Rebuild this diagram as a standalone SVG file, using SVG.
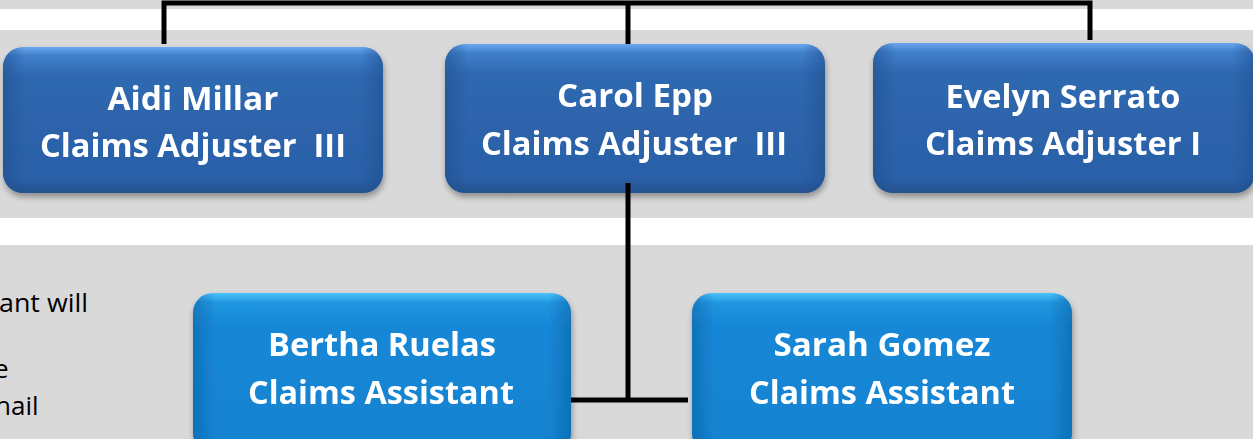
<svg xmlns="http://www.w3.org/2000/svg" width="1253" height="439" viewBox="0 0 1253 439">
<defs>
<style>
.nt{font-family:"Open Sans","Liberation Sans",sans-serif;font-weight:bold;font-size:33px;fill:#ffffff;white-space:pre;}
.side{font-family:"Open Sans","Liberation Sans",sans-serif;font-size:26px;fill:#000000;}
.conn{stroke:#000000;stroke-width:5;fill:none;}
</style>
<linearGradient id="gDark" x1="0" y1="0" x2="0" y2="1">
<stop offset="0" stop-color="#6aa8f0"/>
<stop offset="0.06" stop-color="#3f7fcb"/>
<stop offset="0.2" stop-color="#2f68b0"/>
<stop offset="0.9" stop-color="#2b60a8"/>
<stop offset="1" stop-color="#24528f"/>
</linearGradient>
<linearGradient id="gDarkSide" x1="0" y1="0" x2="1" y2="0">
<stop offset="0" stop-color="#1f4e8c" stop-opacity="0.55"/>
<stop offset="0.06" stop-color="#1f4e8c" stop-opacity="0"/>
<stop offset="0.94" stop-color="#1f4e8c" stop-opacity="0"/>
<stop offset="1" stop-color="#1f4e8c" stop-opacity="0.55"/>
</linearGradient>
<linearGradient id="gLight" x1="0" y1="0" x2="0" y2="1">
<stop offset="0" stop-color="#4cc4ff"/>
<stop offset="0.06" stop-color="#2196e0"/>
<stop offset="0.2" stop-color="#1587d6"/>
<stop offset="0.9" stop-color="#1383d2"/>
<stop offset="1" stop-color="#0f70b8"/>
</linearGradient>
<linearGradient id="gLightSide" x1="0" y1="0" x2="1" y2="0">
<stop offset="0" stop-color="#0b5f9e" stop-opacity="0.5"/>
<stop offset="0.06" stop-color="#0b5f9e" stop-opacity="0"/>
<stop offset="0.94" stop-color="#0b5f9e" stop-opacity="0"/>
<stop offset="1" stop-color="#0b5f9e" stop-opacity="0.5"/>
</linearGradient>
<filter id="sh" x="-10%" y="-10%" width="120%" height="130%">
<feGaussianBlur in="SourceAlpha" stdDeviation="3"/>
<feOffset dx="1" dy="4" result="b"/>
<feComponentTransfer><feFuncA type="linear" slope="0.35"/></feComponentTransfer>
<feMerge><feMergeNode/><feMergeNode in="SourceGraphic"/></feMerge>
</filter>
</defs>

<!-- background bands -->
<rect x="0" y="0" width="1253" height="439" fill="#d9d9d9"/>
<rect x="0" y="9" width="1253" height="21" fill="#ffffff"/>
<rect x="0" y="218" width="1253" height="27" fill="#ffffff"/>

<!-- side text (cut off at the left edge, as in the reference) -->
<text class="side" x="-1" y="312" textLength="89" lengthAdjust="spacingAndGlyphs">ant will</text>
<text class="side" x="-6" y="378">e</text>
<text class="side" x="-5" y="415">hail</text>

<!-- connectors -->
<g id="connectors">
<path class="conn" d="M164 44 V3 H1090 V40"/>
<path class="conn" d="M628 3 V45"/>
<path class="conn" d="M628 183 V400"/>
<path class="conn" d="M562 400 H688"/>
</g>

<g id="node-aidi" filter="url(#sh)">
<rect x="3" y="47" width="380" height="146" rx="20" fill="url(#gDark)"/>
<rect x="3" y="47" width="380" height="146" rx="20" fill="url(#gDarkSide)"/>
<text class="nt" x="193" y="110" text-anchor="middle" textLength="171" lengthAdjust="spacingAndGlyphs">Aidi Millar</text>
<text class="nt" x="193" y="157" text-anchor="middle" textLength="306" lengthAdjust="spacingAndGlyphs" xml:space="preserve">Claims Adjuster  III</text>
</g>

<g id="node-carol" filter="url(#sh)">
<rect x="445" y="44" width="380" height="149" rx="20" fill="url(#gDark)"/>
<rect x="445" y="44" width="380" height="149" rx="20" fill="url(#gDarkSide)"/>
<text class="nt" x="635" y="107" text-anchor="middle" textLength="156" lengthAdjust="spacingAndGlyphs">Carol Epp</text>
<text class="nt" x="634" y="155" text-anchor="middle" textLength="306" lengthAdjust="spacingAndGlyphs" xml:space="preserve">Claims Adjuster  III</text>
</g>
<path class="conn" d="M628 183 V193"/>

<g id="node-evelyn" filter="url(#sh)">
<rect x="873" y="43" width="382" height="150" rx="20" fill="url(#gDark)"/>
<rect x="873" y="43" width="382" height="150" rx="20" fill="url(#gDarkSide)"/>
<text class="nt" x="1063" y="108" text-anchor="middle" textLength="235" lengthAdjust="spacingAndGlyphs">Evelyn Serrato</text>
<text class="nt" x="1063" y="155" text-anchor="middle" textLength="276" lengthAdjust="spacingAndGlyphs">Claims Adjuster I</text>
</g>

<g id="node-bertha" filter="url(#sh)">
<rect x="193" y="293" width="378" height="160" rx="20" fill="url(#gLight)"/>
<rect x="193" y="293" width="378" height="160" rx="20" fill="url(#gLightSide)"/>
<text class="nt" x="382" y="356" text-anchor="middle" textLength="228" lengthAdjust="spacingAndGlyphs">Bertha Ruelas</text>
<text class="nt" x="381" y="404" text-anchor="middle" textLength="266" lengthAdjust="spacingAndGlyphs">Claims Assistant</text>
</g>

<g id="node-sarah" filter="url(#sh)">
<rect x="692" y="293" width="380" height="160" rx="20" fill="url(#gLight)"/>
<rect x="692" y="293" width="380" height="160" rx="20" fill="url(#gLightSide)"/>
<text class="nt" x="882" y="356" text-anchor="middle" textLength="217" lengthAdjust="spacingAndGlyphs">Sarah Gomez</text>
<text class="nt" x="882" y="404" text-anchor="middle" textLength="266" lengthAdjust="spacingAndGlyphs">Claims Assistant</text>
</g>
</svg>
